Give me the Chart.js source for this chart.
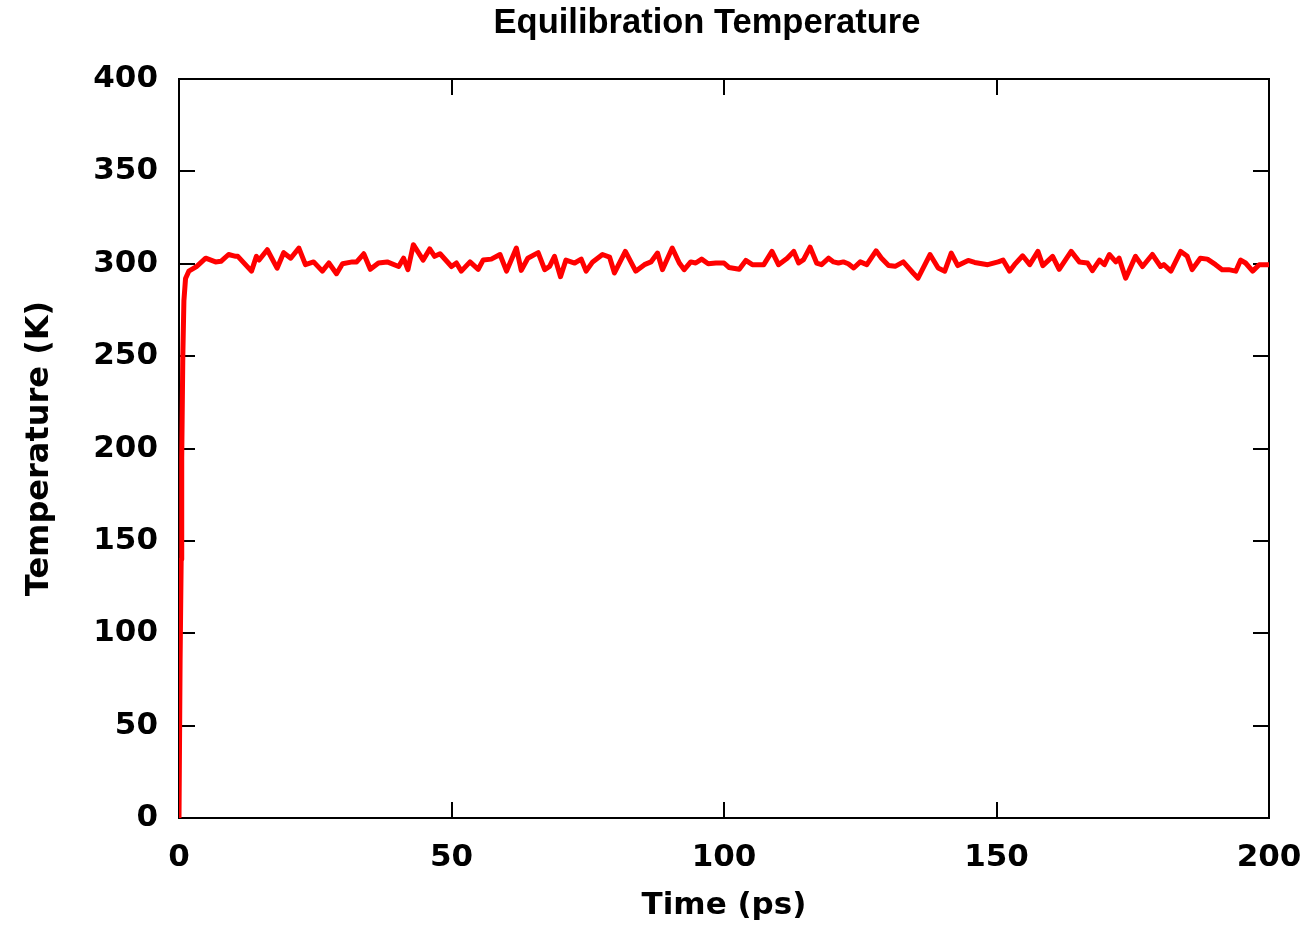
<!DOCTYPE html>
<html>
<head>
<meta charset="utf-8">
<script src="https://cdn.jsdelivr.net/npm/chart.js@4.4.1/dist/chart.umd.min.js"></script>
<style>
  html, body { margin: 0; padding: 0; background: #ffffff; }
  #wrap { width: 1311px; height: 932px; }
</style>
</head>
<body>
<div id="wrap"><canvas id="c" width="1311" height="932"></canvas></div>
<script>
const chartTitle = "Equilibration Temperature";
const xAxisTitle = "Time (ps)";
const yAxisTitle = "Temperature (K)";
const xTicks = [0, 50, 100, 150, 200];
const yTicks = [0, 50, 100, 150, 200, 250, 300, 350, 400];

const timePs = [
  0, 0.2, 0.4, 0.5, 0.7, 0.9, 1.2, 1.8, 3.2, 4.9,
  6.7, 7.7, 9.1, 10.4, 10.8, 13.3, 14.2, 14.7, 16.2, 18.0,
  19.2, 20.5, 22.0, 23.2, 24.7, 26.3, 27.5, 28.9, 30.0, 31.8,
  32.6, 33.9, 35.1, 36.6, 38.2, 40.3, 41.2, 42.0, 43.0, 44.8,
  46.0, 46.9, 47.9, 50.0, 50.9, 51.8, 53.4, 54.9, 55.8, 57.3,
  58.9, 60.1, 61.9, 62.8, 64.0, 65.9, 67.1, 68.0, 68.9, 70.0,
  71.0, 72.6, 73.8, 74.7, 75.9, 77.7, 79.0, 79.9, 81.9, 83.8,
  85.4, 86.6, 87.8, 88.7, 90.5, 91.8, 92.7, 93.9, 94.8, 95.9,
  97.1, 98.5, 100.0, 100.9, 102.8, 104.0, 105.2, 107.3, 108.8, 110.0,
  111.6, 112.8, 113.7, 114.6, 115.8, 117.0, 117.9, 119.2, 120.1, 121.0,
  121.9, 122.8, 123.8, 125.0, 126.2, 127.9, 128.9, 130.2, 131.4, 132.9,
  134.7, 135.6, 137.8, 139.3, 140.5, 141.7, 142.9, 144.8, 146.0, 148.4,
  150.3, 151.2, 152.4, 153.3, 154.8, 156.1, 157.6, 158.5, 160.3, 161.5,
  163.7, 165.2, 166.7, 167.6, 168.9, 169.8, 170.7, 171.9, 172.5, 173.7,
  175.5, 176.8, 178.6, 180.1, 180.7, 182.0, 183.8, 185.0, 185.9, 187.4,
  188.7, 190.2, 191.4, 192.6, 193.9, 194.8, 195.7, 197.0, 198.2, 200.0
];
const temperatureK = [
  0, 85, 140, 195, 250, 280, 292, 296, 298.5, 303,
  301, 301.3, 305, 304, 304, 296, 304, 302, 307.6, 297.6,
  306, 303, 308.5, 299.5, 301, 296, 300.4, 294.6, 300, 301,
  301, 305.4, 297, 300.4, 301, 298.5, 303, 296.8, 310.3, 302,
  308, 304, 305.4, 298.5, 300.4, 296, 301, 297, 302, 302.5,
  305, 296, 308.5, 296.4, 303, 306, 296.8, 298.6, 304, 293,
  302, 300.4, 302.5, 296, 301, 305, 303.6, 295, 306.7, 296,
  299.5, 301, 305.8, 296.8, 308.5, 300.4, 296.8, 301, 300.4, 302.5,
  300, 300.4, 300.4, 298, 297, 301.8, 299.5, 299.5, 306.7, 299.5,
  303, 306.7, 300.4, 302.2, 309, 300.4, 299.5, 303, 301, 300.4,
  301, 300, 297.7, 301, 299.5, 307, 303, 299, 298.6, 301,
  295, 292.2, 305, 297.7, 296, 305.8, 299, 301.8, 300.7, 299.5,
  301, 302, 296, 299.5, 304.3, 299.5, 306.7, 299, 304, 297,
  306.7, 301, 300.4, 296.3, 302, 299.5, 305, 301, 303, 292.2,
  304, 298.5, 305, 298.5, 299.5, 296, 306.7, 304, 296.8, 303,
  302.5, 299.5, 296.8, 296.8, 296, 302, 300.4, 296, 299.5, 299.5
];

const TITLE_FONT = "'Liberation Sans', Arial, Helvetica, sans-serif";
const AXIS_FONT = "'DejaVu Sans', Verdana, sans-serif";

const framePlugin = {
  id: 'frameTicks',
  beforeDatasetsDraw(chart) {
    const {ctx, chartArea: a, scales} = chart;
    const tl = 16;
    ctx.save();
    ctx.strokeStyle = '#000000';
    ctx.lineWidth = 2;
    ctx.beginPath();
    xTicks.forEach(v => {
      const px = Math.round(scales.x.getPixelForValue(v));
      if (v !== xTicks[0] && v !== xTicks[xTicks.length - 1]) {
        ctx.moveTo(px, a.bottom); ctx.lineTo(px, a.bottom - tl);
        ctx.moveTo(px, a.top); ctx.lineTo(px, a.top + tl);
      }
    });
    yTicks.forEach(v => {
      const py = Math.round(scales.y.getPixelForValue(v));
      if (v !== yTicks[0] && v !== yTicks[yTicks.length - 1]) {
        ctx.moveTo(a.left, py); ctx.lineTo(a.left + tl, py);
        ctx.moveTo(a.right, py); ctx.lineTo(a.right - tl, py);
      }
    });
    ctx.stroke();
    ctx.strokeRect(a.left, a.top, a.right - a.left, a.bottom - a.top);
    ctx.restore();
  },
  afterDraw(chart) {
    const {ctx} = chart;
    ctx.save();
    ctx.fillStyle = '#000000';
    ctx.font = "bold 34.5px " + TITLE_FONT;
    ctx.textAlign = 'center';
    ctx.textBaseline = 'alphabetic';
    ctx.fillText(chartTitle, 707, 33);
    ctx.restore();
  }
};

new Chart(document.getElementById('c'), {
  type: 'line',
  data: {
    datasets: [{
      data: timePs.map((t, i) => ({x: t, y: temperatureK[i]})),
      borderColor: '#ff0000',
      borderWidth: 5,
      pointRadius: 0,
      tension: 0,
      borderJoinStyle: 'round',
      fill: false
    }]
  },
  options: {
    responsive: false,
    animation: false,
    devicePixelRatio: 1,
    layout: { padding: { left: 0, right: 42, top: 79, bottom: 0 } },
    plugins: {
      legend: { display: false },
      tooltip: { enabled: false },
      title: { display: false }
    },
    scales: {
      x: {
        type: 'linear',
        min: 0, max: 200,
        afterFit(s) { s.height = 114; s.paddingLeft = 0; s.paddingRight = 0; },
        grid: { display: false, drawTicks: false },
        border: { display: false },
        ticks: {
          stepSize: 50,
          padding: 21,
          color: '#000000',
          font: { family: AXIS_FONT, size: 31, weight: 'bold', lineHeight: 1.2 },
          maxRotation: 0
        },
        title: {
          display: true,
          text: xAxisTitle,
          color: '#000000',
          font: { family: AXIS_FONT, size: 31, weight: 'bold', lineHeight: 1.2 },
          padding: { top: 0, bottom: 7 }
        }
      },
      y: {
        type: 'linear',
        min: 0, max: 400,
        afterFit(s) { s.width = 179; },
        grid: { display: false, drawTicks: false },
        border: { display: false },
        ticks: {
          stepSize: 50,
          padding: 21,
          color: '#000000',
          font: { family: AXIS_FONT, size: 31, weight: 'bold' }
        },
        title: {
          display: true,
          text: yAxisTitle,
          color: '#000000',
          font: { family: AXIS_FONT, size: 32, weight: 'bold', lineHeight: 1.2 },
          padding: { top: 20, bottom: 0 }
        }
      }
    }
  },
  plugins: [framePlugin]
});
</script>
</body>
</html>
